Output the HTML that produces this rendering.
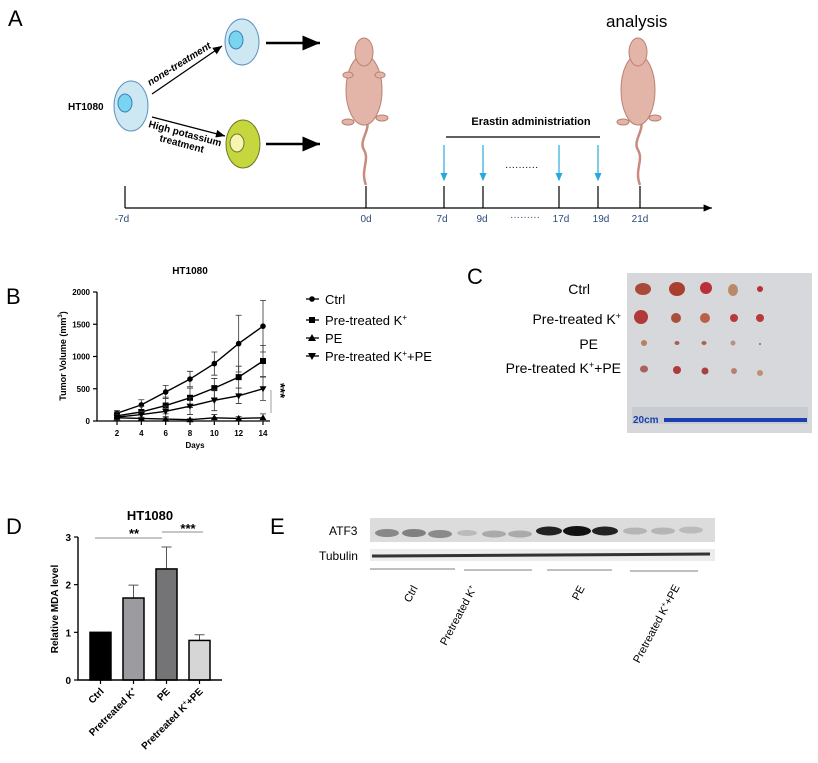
<!DOCTYPE html>
<html><head><meta charset="utf-8">
<style>
html,body{margin:0;padding:0;background:#fff;}
svg{display:block;font-family:"Liberation Sans",Arial,sans-serif;}
</style></head>
<body>
<svg id="fig" width="818" height="763" viewBox="0 0 818 763" xmlns="http://www.w3.org/2000/svg">
<defs>
<marker id="ah" markerWidth="8" markerHeight="8" refX="7" refY="4" orient="auto"><path d="M0,1 L7,4 L0,7 Z" fill="#000"/></marker>
<marker id="ahb" markerWidth="8" markerHeight="8" refX="6" refY="4" orient="auto"><path d="M0,1 L7,4 L0,7 Z" fill="#29a8e0"/></marker>
</defs>

<!-- Panel A -->
<g>
<text x="8" y="26" font-size="22">A</text>
<text x="68" y="110" font-size="10" font-weight="bold">HT1080</text>
<ellipse cx="131" cy="106" rx="17" ry="25" fill="#cde8f3" stroke="#5a8fbf"/>
<ellipse cx="125" cy="103" rx="7" ry="9" fill="#79d4f2" stroke="#3a7fb0"/>
<ellipse cx="242" cy="42" rx="17" ry="23" fill="#cde8f3" stroke="#5a8fbf"/>
<ellipse cx="236" cy="40" rx="7" ry="9" fill="#79d4f2" stroke="#3a7fb0"/>
<ellipse cx="243" cy="144" rx="17" ry="24" fill="#c5d63e" stroke="#6d7a2a"/>
<ellipse cx="237" cy="143" rx="7" ry="9" fill="#f7f3b0" stroke="#6d7a2a"/>
<line x1="152" y1="94" x2="222" y2="46" stroke="#000" stroke-width="1.3" marker-end="url(#ah)"/>
<line x1="152" y1="117" x2="225" y2="136" stroke="#000" stroke-width="1.3" marker-end="url(#ah)"/>
<text transform="translate(150,86) rotate(-32)" font-size="10" font-weight="bold" font-style="italic">none-treatment</text>
<text transform="translate(148,127) rotate(15)" font-size="10" font-weight="bold">High potassium</text>
<text transform="translate(159,141) rotate(15)" font-size="10" font-weight="bold">treatment</text>
<line x1="266" y1="43" x2="320" y2="43" stroke="#000" stroke-width="2.5" marker-end="url(#ah)"/>
<line x1="266" y1="144" x2="320" y2="144" stroke="#000" stroke-width="2.5" marker-end="url(#ah)"/>
<g>
<path d="M366,185 C360,170 370,160 364,150 C358,140 372,130 366,118" fill="none" stroke="#c98a80" stroke-width="2.5"/>
<ellipse cx="364" cy="90" rx="18" ry="35" fill="#e3b5a8" stroke="#b98173"/>
<ellipse cx="364" cy="52" rx="9" ry="14" fill="#e3b5a8" stroke="#b98173"/>
<ellipse cx="348" cy="122" rx="6" ry="3" fill="#e3b5a8" stroke="#b98173"/>
<ellipse cx="382" cy="118" rx="6" ry="3" fill="#e3b5a8" stroke="#b98173"/>
<ellipse cx="348" cy="75" rx="5" ry="3" fill="#e3b5a8" stroke="#b98173"/>
<ellipse cx="380" cy="75" rx="5" ry="3" fill="#e3b5a8" stroke="#b98173"/>
</g>
<g>
<path d="M640,185 C634,170 644,160 638,150 C632,140 646,130 640,118" fill="none" stroke="#c98a80" stroke-width="2.5"/>
<ellipse cx="638" cy="90" rx="17" ry="35" fill="#e3b5a8" stroke="#b98173"/>
<ellipse cx="638" cy="52" rx="9" ry="14" fill="#e3b5a8" stroke="#b98173"/>
<ellipse cx="623" cy="122" rx="6" ry="3" fill="#e3b5a8" stroke="#b98173"/>
<ellipse cx="655" cy="118" rx="6" ry="3" fill="#e3b5a8" stroke="#b98173"/>
</g>
<text x="606" y="27" font-size="17">analysis</text>
<text x="531" y="125" font-size="11" font-weight="bold" text-anchor="middle">Erastin administriation</text>
<line x1="446" y1="137" x2="600" y2="137" stroke="#000" stroke-width="1.3"/>
<g stroke="#29a8e0" stroke-width="1.2">
<line x1="444" y1="145" x2="444" y2="180" marker-end="url(#ahb)"/>
<line x1="483" y1="145" x2="483" y2="180" marker-end="url(#ahb)"/>
<line x1="559" y1="145" x2="559" y2="180" marker-end="url(#ahb)"/>
<line x1="598" y1="145" x2="598" y2="180" marker-end="url(#ahb)"/>
</g>
<text x="505" y="170" font-size="10">··········</text>
<line x1="125" y1="208" x2="712" y2="208" stroke="#000" stroke-width="1.2" marker-end="url(#ah)"/>
<g stroke="#000" stroke-width="1.2">
<line x1="125" y1="186" x2="125" y2="208"/><line x1="366" y1="186" x2="366" y2="208"/><line x1="444" y1="186" x2="444" y2="208"/><line x1="483" y1="186" x2="483" y2="208"/><line x1="559" y1="186" x2="559" y2="208"/><line x1="598" y1="186" x2="598" y2="208"/><line x1="640" y1="186" x2="640" y2="208"/>
</g>
<g font-size="10" fill="#2a4a7a" text-anchor="middle">
<text x="122" y="222">-7d</text><text x="366" y="222">0d</text><text x="442" y="222">7d</text><text x="482" y="222">9d</text><text x="525" y="220">·········</text><text x="561" y="222">17d</text><text x="601" y="222">19d</text><text x="640" y="222">21d</text>
</g>
</g>

<!-- Panel B -->
<g id="panelB">
<text x="6" y="304" font-size="22">B</text>
<text x="190" y="274" font-size="10" font-weight="bold" text-anchor="middle">HT1080</text>
<text transform="translate(66,356) rotate(-90)" font-size="9" font-weight="bold" text-anchor="middle">Tumor Volume (mm<tspan font-size="6" dy="-4">3</tspan><tspan dy="4">)</tspan></text>
<text x="195" y="448" font-size="8" font-weight="bold" text-anchor="middle">Days</text>
<text transform="translate(276,383) rotate(90)" font-size="13" font-weight="bold">***</text>
<line x1="271" y1="390" x2="271" y2="413" stroke="#888" stroke-width="0.8"/>
<g font-size="13">
<g><line x1="306" y1="299" x2="319" y2="299" stroke="#000" stroke-width="1.3"/><circle cx="312" cy="299" r="2.8"/><text x="325" y="304">Ctrl</text></g>
<g><line x1="306" y1="320" x2="319" y2="320" stroke="#000" stroke-width="1.3"/><rect x="309" y="317" width="6" height="6"/><text x="325" y="325">Pre-treated  K<tspan font-size="8" dy="-5">+</tspan></text></g>
<g><line x1="306" y1="338" x2="319" y2="338" stroke="#000" stroke-width="1.3"/><path d="M312,334 L316,341 L308,341Z"/><text x="325" y="343">PE</text></g>
<g><line x1="306" y1="356" x2="319" y2="356" stroke="#000" stroke-width="1.3"/><path d="M312,360 L316,353 L308,353Z"/><text x="325" y="361">Pre-treated  K<tspan font-size="8" dy="-5">+</tspan><tspan dy="5">+PE</tspan></text></g>
</g>
</g>

<!-- Panel C -->
<g>
<text x="467" y="284" font-size="22">C</text>
<g font-size="14" text-anchor="end">
<text x="590" y="294">Ctrl</text>
<text x="621" y="324">Pre-treated  K<tspan font-size="9" dy="-5">+</tspan></text>
<text x="598" y="349">PE</text>
<text x="621" y="373">Pre-treated  K<tspan font-size="9" dy="-5">+</tspan><tspan dy="5">+PE</tspan></text>
</g>
<rect x="627" y="273" width="185" height="160" fill="#d6d8dc"/>
<g>
<ellipse cx="643" cy="289" rx="8" ry="6" fill="#a84a3a"/><ellipse cx="677" cy="289" rx="8" ry="7" fill="#a8402f"/><ellipse cx="706" cy="288" rx="6" ry="6" fill="#b8303a"/><ellipse cx="733" cy="290" rx="5" ry="6" fill="#b98a6a"/><ellipse cx="760" cy="289" rx="3" ry="3" fill="#b8303a"/>
<ellipse cx="641" cy="317" rx="7" ry="7" fill="#b03a3a"/><ellipse cx="676" cy="318" rx="5" ry="5" fill="#a8503a"/><ellipse cx="705" cy="318" rx="5" ry="5" fill="#b8604a"/><ellipse cx="734" cy="318" rx="4" ry="4" fill="#b83a3a"/><ellipse cx="760" cy="318" rx="4" ry="4" fill="#b83a3a"/>
<ellipse cx="644" cy="343" rx="3" ry="3" fill="#b88060"/><ellipse cx="677" cy="343" rx="2.5" ry="2" fill="#a86050"/><ellipse cx="704" cy="343" rx="2.5" ry="2" fill="#a86050"/><ellipse cx="733" cy="343" rx="2.5" ry="2.5" fill="#b89080"/><ellipse cx="760" cy="344" rx="1" ry="1" fill="#a06050"/>
<ellipse cx="644" cy="369" rx="4" ry="3.5" fill="#a86060"/><ellipse cx="677" cy="370" rx="4" ry="4" fill="#b03a3a"/><ellipse cx="705" cy="371" rx="3.5" ry="3.5" fill="#a84040"/><ellipse cx="734" cy="371" rx="3" ry="3" fill="#b88070"/><ellipse cx="760" cy="373" rx="3" ry="3" fill="#c09070"/>
</g>
<rect x="632" y="407" width="176" height="17" fill="#c8ccd2"/>
<rect x="664" y="418" width="143" height="4" fill="#1a40b0"/>
<text x="633" y="423" font-size="10" font-weight="bold" fill="#1a40b0">20cm</text>
</g>

<!-- Panel D -->
<g id="panelD">
<text x="6" y="534" font-size="22">D</text>
<text x="150" y="520" font-size="13" font-weight="bold" text-anchor="middle">HT1080</text>
<text x="134" y="538" font-size="13" font-weight="bold" text-anchor="middle">**</text>
<text x="188" y="533" font-size="13" font-weight="bold" text-anchor="middle">***</text>
<line x1="95" y1="538" x2="162" y2="538" stroke="#666" stroke-width="0.8"/>
<line x1="162" y1="532" x2="203" y2="532" stroke="#666" stroke-width="0.8"/>
<text transform="translate(58,609) rotate(-90)" font-size="10" font-weight="bold" text-anchor="middle">Relative MDA level</text>
</g>

<!-- Panel E -->
<g>
<text x="270" y="534" font-size="22">E</text>
<text x="329" y="535" font-size="12">ATF3</text>
<text x="319" y="560" font-size="12">Tubulin</text>
<rect x="370" y="518" width="345" height="24" fill="#dcdcdc"/>
<g>
<ellipse cx="387" cy="533" rx="12" ry="4" fill="#888"/><ellipse cx="414" cy="533" rx="12" ry="4" fill="#808080"/><ellipse cx="440" cy="534" rx="12" ry="4" fill="#8a8a8a"/>
<ellipse cx="467" cy="533" rx="10" ry="3" fill="#bbb"/><ellipse cx="494" cy="534" rx="12" ry="3.5" fill="#aaa"/><ellipse cx="520" cy="534" rx="12" ry="3.5" fill="#aaa"/>
<ellipse cx="549" cy="531" rx="13" ry="4.5" fill="#222"/><ellipse cx="577" cy="531" rx="14" ry="5" fill="#111"/><ellipse cx="605" cy="531" rx="13" ry="4.5" fill="#222"/>
<ellipse cx="635" cy="531" rx="12" ry="3.5" fill="#b5b5b5"/><ellipse cx="663" cy="531" rx="12" ry="3.5" fill="#b5b5b5"/><ellipse cx="691" cy="530" rx="12" ry="3.5" fill="#bbb"/>
</g>
<rect x="370" y="549" width="345" height="12" fill="#ececec"/>
<path d="M372,556 L710,554" stroke="#333" stroke-width="3"/>
<g stroke="#555" stroke-width="0.8">
<line x1="370" y1="569" x2="455" y2="569"/><line x1="464" y1="570" x2="532" y2="570"/><line x1="547" y1="570" x2="612" y2="570"/><line x1="630" y1="571" x2="698" y2="571"/>
</g>
<g font-size="11" text-anchor="end">
<text transform="translate(418,588) rotate(-62)">Ctrl</text>
<text transform="translate(477,588) rotate(-62)">Pretreated K<tspan font-size="7" dy="-4">+</tspan></text>
<text transform="translate(585,588) rotate(-62)">PE</text>
<text transform="translate(680,587) rotate(-62)">Pretreated K<tspan font-size="7" dy="-4">+</tspan><tspan dy="4">+PE</tspan></text>
</g>
</g>

<script>
// ---- Panel B data ----
const daysB = [2,4,6,8,10,12,14];
const ctrlVals = [120,250,450,650,890,1200,1470];
const ctrlErr = [40,80,100,120,180,440,400];
const kVals = [80,140,240,360,510,680,930];
const kErr = [60,90,130,150,150,170,240];
const peVals = [50,40,30,20,50,40,50];
const peErr = [20,20,20,15,50,30,60];
const kpeVals = [60,100,150,230,320,390,500];
const kpeErr = [40,50,80,130,160,120,180];
const yTicksB = [0,500,1000,1500,2000];

// ---- Panel D data ----
const catsD = ["Ctrl","Pretreated K","PE","Pretreated K +PE"];
const valsD = [1.0,1.72,2.33,0.83];
const errD = [0,0.27,0.46,0.12];
const yTicksD = [0,1,2,3];

const NS='http://www.w3.org/2000/svg';
function mk(tag,attrs,parent){const e=document.createElementNS(NS,tag);for(const k in attrs)e.setAttribute(k,attrs[k]);parent.appendChild(e);return e;}

// Panel B
(function(){
const g=document.getElementById('panelB');
const x0=97,x1=270,y0=421,y1=292;
const xs=d=>117+(d-2)*(263-117)/12;
const ys=v=>y0-(v/2000)*(y0-y1);
const ax=mk('path',{d:`M${x0},${y1} L${x0},${y0} L${x1},${y0}`,fill:'none',stroke:'#000','stroke-width':1.3},g);


yTicksB.forEach(t=>{
 const l=mk('line',{x1:x0-4,x2:x0,y1:ys(t),y2:ys(t),stroke:'#000','stroke-width':1.2},g);
 
 
 const tx=mk('text',{x:x0-7,y:ys(t)+3,'font-size':8,'font-weight':'bold','text-anchor':'end'},g);
 tx.textContent=t;
 
 
});
daysB.forEach(d=>{
 const l=mk('line',{x1:xs(d),x2:xs(d),y1:y0,y2:y0+4,stroke:'#000','stroke-width':1.2},g);
 
 
 const tx=mk('text',{x:xs(d),y:y0+15,'font-size':8,'font-weight':'bold','text-anchor':'middle'},g);
 tx.textContent=d;
 
 
});
const series=[[ctrlVals,ctrlErr,'circle','ctrl'],[kVals,kErr,'square','k'],[peVals,peErr,'up','pe'],[kpeVals,kpeErr,'down','k-pe']];
series.forEach(([v,e,shape,nm])=>{
 const sg=mk('g',{},g);
 
 
 daysB.forEach((d,i)=>{
  const x=xs(d);
  const eb=mk('path',{d:`M${x},${ys(v[i]+e[i])} L${x},${ys(Math.max(0,v[i]-e[i]))} M${x-3},${ys(v[i]+e[i])} L${x+3},${ys(v[i]+e[i])} M${x-3},${ys(Math.max(0,v[i]-e[i]))} L${x+3},${ys(Math.max(0,v[i]-e[i]))}`,stroke:'#333','stroke-width':0.8,fill:'none'},sg);
  
  
 });
 const ln=mk('polyline',{points:daysB.map((d,i)=>xs(d)+','+ys(v[i])).join(' '),fill:'none',stroke:'#000','stroke-width':1.4},sg);
 
 
 daysB.forEach((d,i)=>{
  const x=xs(d),y=ys(v[i]);let m;
  if(shape==='circle')m=mk('circle',{cx:x,cy:y,r:2.8},sg);
  else if(shape==='square')m=mk('rect',{x:x-3,y:y-3,width:6,height:6},sg);
  else if(shape==='up')m=mk('path',{d:`M${x},${y-3.5} L${x+3.5},${y+2.5} L${x-3.5},${y+2.5}Z`},sg);
  else m=mk('path',{d:`M${x},${y+3.5} L${x+3.5},${y-2.5} L${x-3.5},${y-2.5}Z`},sg);
  
  
 });
});
})();

// Panel D
(function(){
const g=document.getElementById('panelD');
const x0=78,x1=222,y0=680,y1=537;
const ys=v=>y0-(v/3)*(y0-y1);
const fills=['#000','#9c9ca0','#747476','#d6d6d6'];
const bw=21,step=33,first=90;
valsD.forEach((v,i)=>{
 const x=first+i*step;
 const cx=x+bw/2;
 if(errD[i]>0){
  const eb=mk('path',{d:`M${cx},${ys(v)} L${cx},${ys(v+errD[i])} M${cx-5},${ys(v+errD[i])} L${cx+5},${ys(v+errD[i])}`,stroke:'#555','stroke-width':1,fill:'none'},g);
  
  
 }
 const r=mk('rect',{x:x,y:ys(v),width:bw,height:y0-ys(v),fill:fills[i],stroke:'#000','stroke-width':1.5},g);
 
 
 const tk=mk('line',{x1:cx,x2:cx,y1:y0,y2:y0+4,stroke:'#000','stroke-width':1.2},g);
 
 
 const t=mk('text',{transform:`translate(${cx+4},${y0+12}) rotate(-45)`,'font-size':10,'font-weight':'bold','text-anchor':'end'},g);
 
 
 const parts=catsD[i].split('K');
 if(parts.length>1){
  t.appendChild(document.createTextNode(parts[0]+'K'));
  const sp=mk('tspan',{'font-size':6,dy:-4},t);sp.textContent='+';
  const sp2=mk('tspan',{dy:4},t);sp2.textContent=parts[1].trim()?parts[1].trim():'';
 } else t.textContent=catsD[i];
});
const ax=mk('path',{d:`M${x0},${y1} L${x0},${y0} L${x1},${y0}`,fill:'none',stroke:'#000','stroke-width':1.4},g);


yTicksD.forEach(t=>{
 const l=mk('line',{x1:x0-4,x2:x0,y1:ys(t),y2:ys(t),stroke:'#000','stroke-width':1.2},g);
 
 
 const tx=mk('text',{x:x0-7,y:ys(t)+4,'font-size':10,'font-weight':'bold','text-anchor':'end'},g);
 tx.textContent=t;
 
 
});
})();
</script>
</svg>
</body></html>
